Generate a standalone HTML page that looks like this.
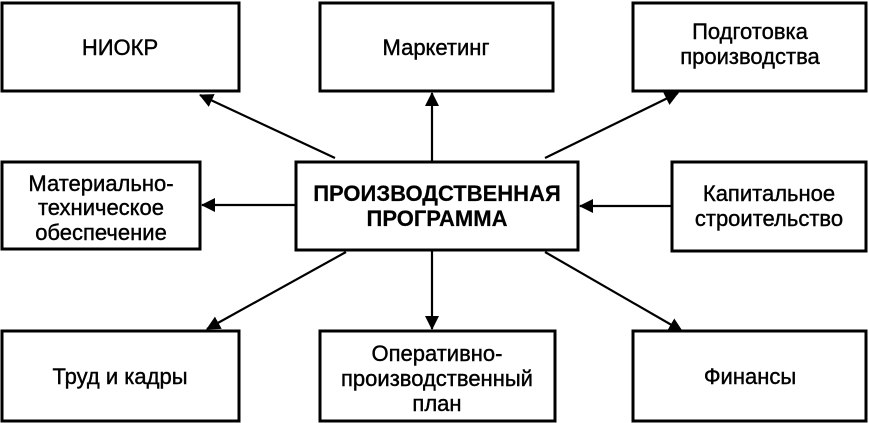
<!DOCTYPE html>
<html><head><meta charset="utf-8"><style>
html,body{margin:0;padding:0;background:#fff;}
svg{display:block;}
text{font-family:"Liberation Sans",sans-serif;font-size:22px;fill:#000;stroke:#000;stroke-width:0.4;text-anchor:middle;}
.b{font-weight:bold;stroke-width:0.2;}
rect{fill:#fff;stroke:#000;stroke-width:3;}
line{stroke:#000;stroke-width:2.2;}
</style></head><body>
<svg width="869" height="423" viewBox="0 0 869 423">
<defs>
<marker id="m" markerWidth="14" markerHeight="14" refX="13" refY="7" orient="auto" markerUnits="userSpaceOnUse" viewBox="0 0 14 14"><path d="M0,0 L14,7 L0,14 z" fill="#000"/></marker></defs>
<rect x="2" y="3" width="237" height="88"/>
<rect x="320" y="3" width="233" height="88"/>
<rect x="633" y="3" width="233" height="88"/>
<rect x="2" y="162" width="198" height="87"/>
<rect x="296" y="162" width="282" height="88"/>
<rect x="672" y="162" width="194" height="89"/>
<rect x="2" y="331" width="237" height="90"/>
<rect x="320" y="331" width="235" height="90"/>
<rect x="633" y="331" width="233" height="90"/>
<line x1="335" y1="158" x2="200" y2="95" marker-end="url(#m)"/>
<line x1="432" y1="161" x2="432" y2="93" marker-end="url(#m)"/>
<line x1="545" y1="158" x2="678" y2="93" marker-end="url(#m)"/>
<line x1="296" y1="205" x2="202" y2="205" marker-end="url(#m)"/>
<line x1="672" y1="206" x2="580" y2="206" marker-end="url(#m)"/>
<line x1="432" y1="251" x2="432" y2="329" marker-end="url(#m)"/>
<line x1="346" y1="252" x2="207" y2="329" marker-end="url(#m)"/>
<line x1="545" y1="252" x2="682" y2="331" marker-end="url(#m)"/>
<text x="120" y="55">НИОКР</text>
<text x="436" y="55">Маркетинг</text>
<text x="750" y="39">Подготовка</text>
<text x="750" y="64">производства</text>
<text x="101" y="191">Материально-</text>
<text x="101" y="215">техническое</text>
<text x="101" y="240">обеспечение</text>
<text class="b" x="437" y="201">ПРОИЗВОДСТВЕННАЯ</text>
<text class="b" x="437" y="226">ПРОГРАММА</text>
<text x="769" y="201">Капитальное</text>
<text x="769" y="226">строительство</text>
<text x="120" y="384">Труд и кадры</text>
<text x="437" y="361">Оперативно-</text>
<text x="437" y="386">производственный</text>
<text x="437" y="411">план</text>
<text x="750" y="384">Финансы</text>
</svg>
</body></html>
